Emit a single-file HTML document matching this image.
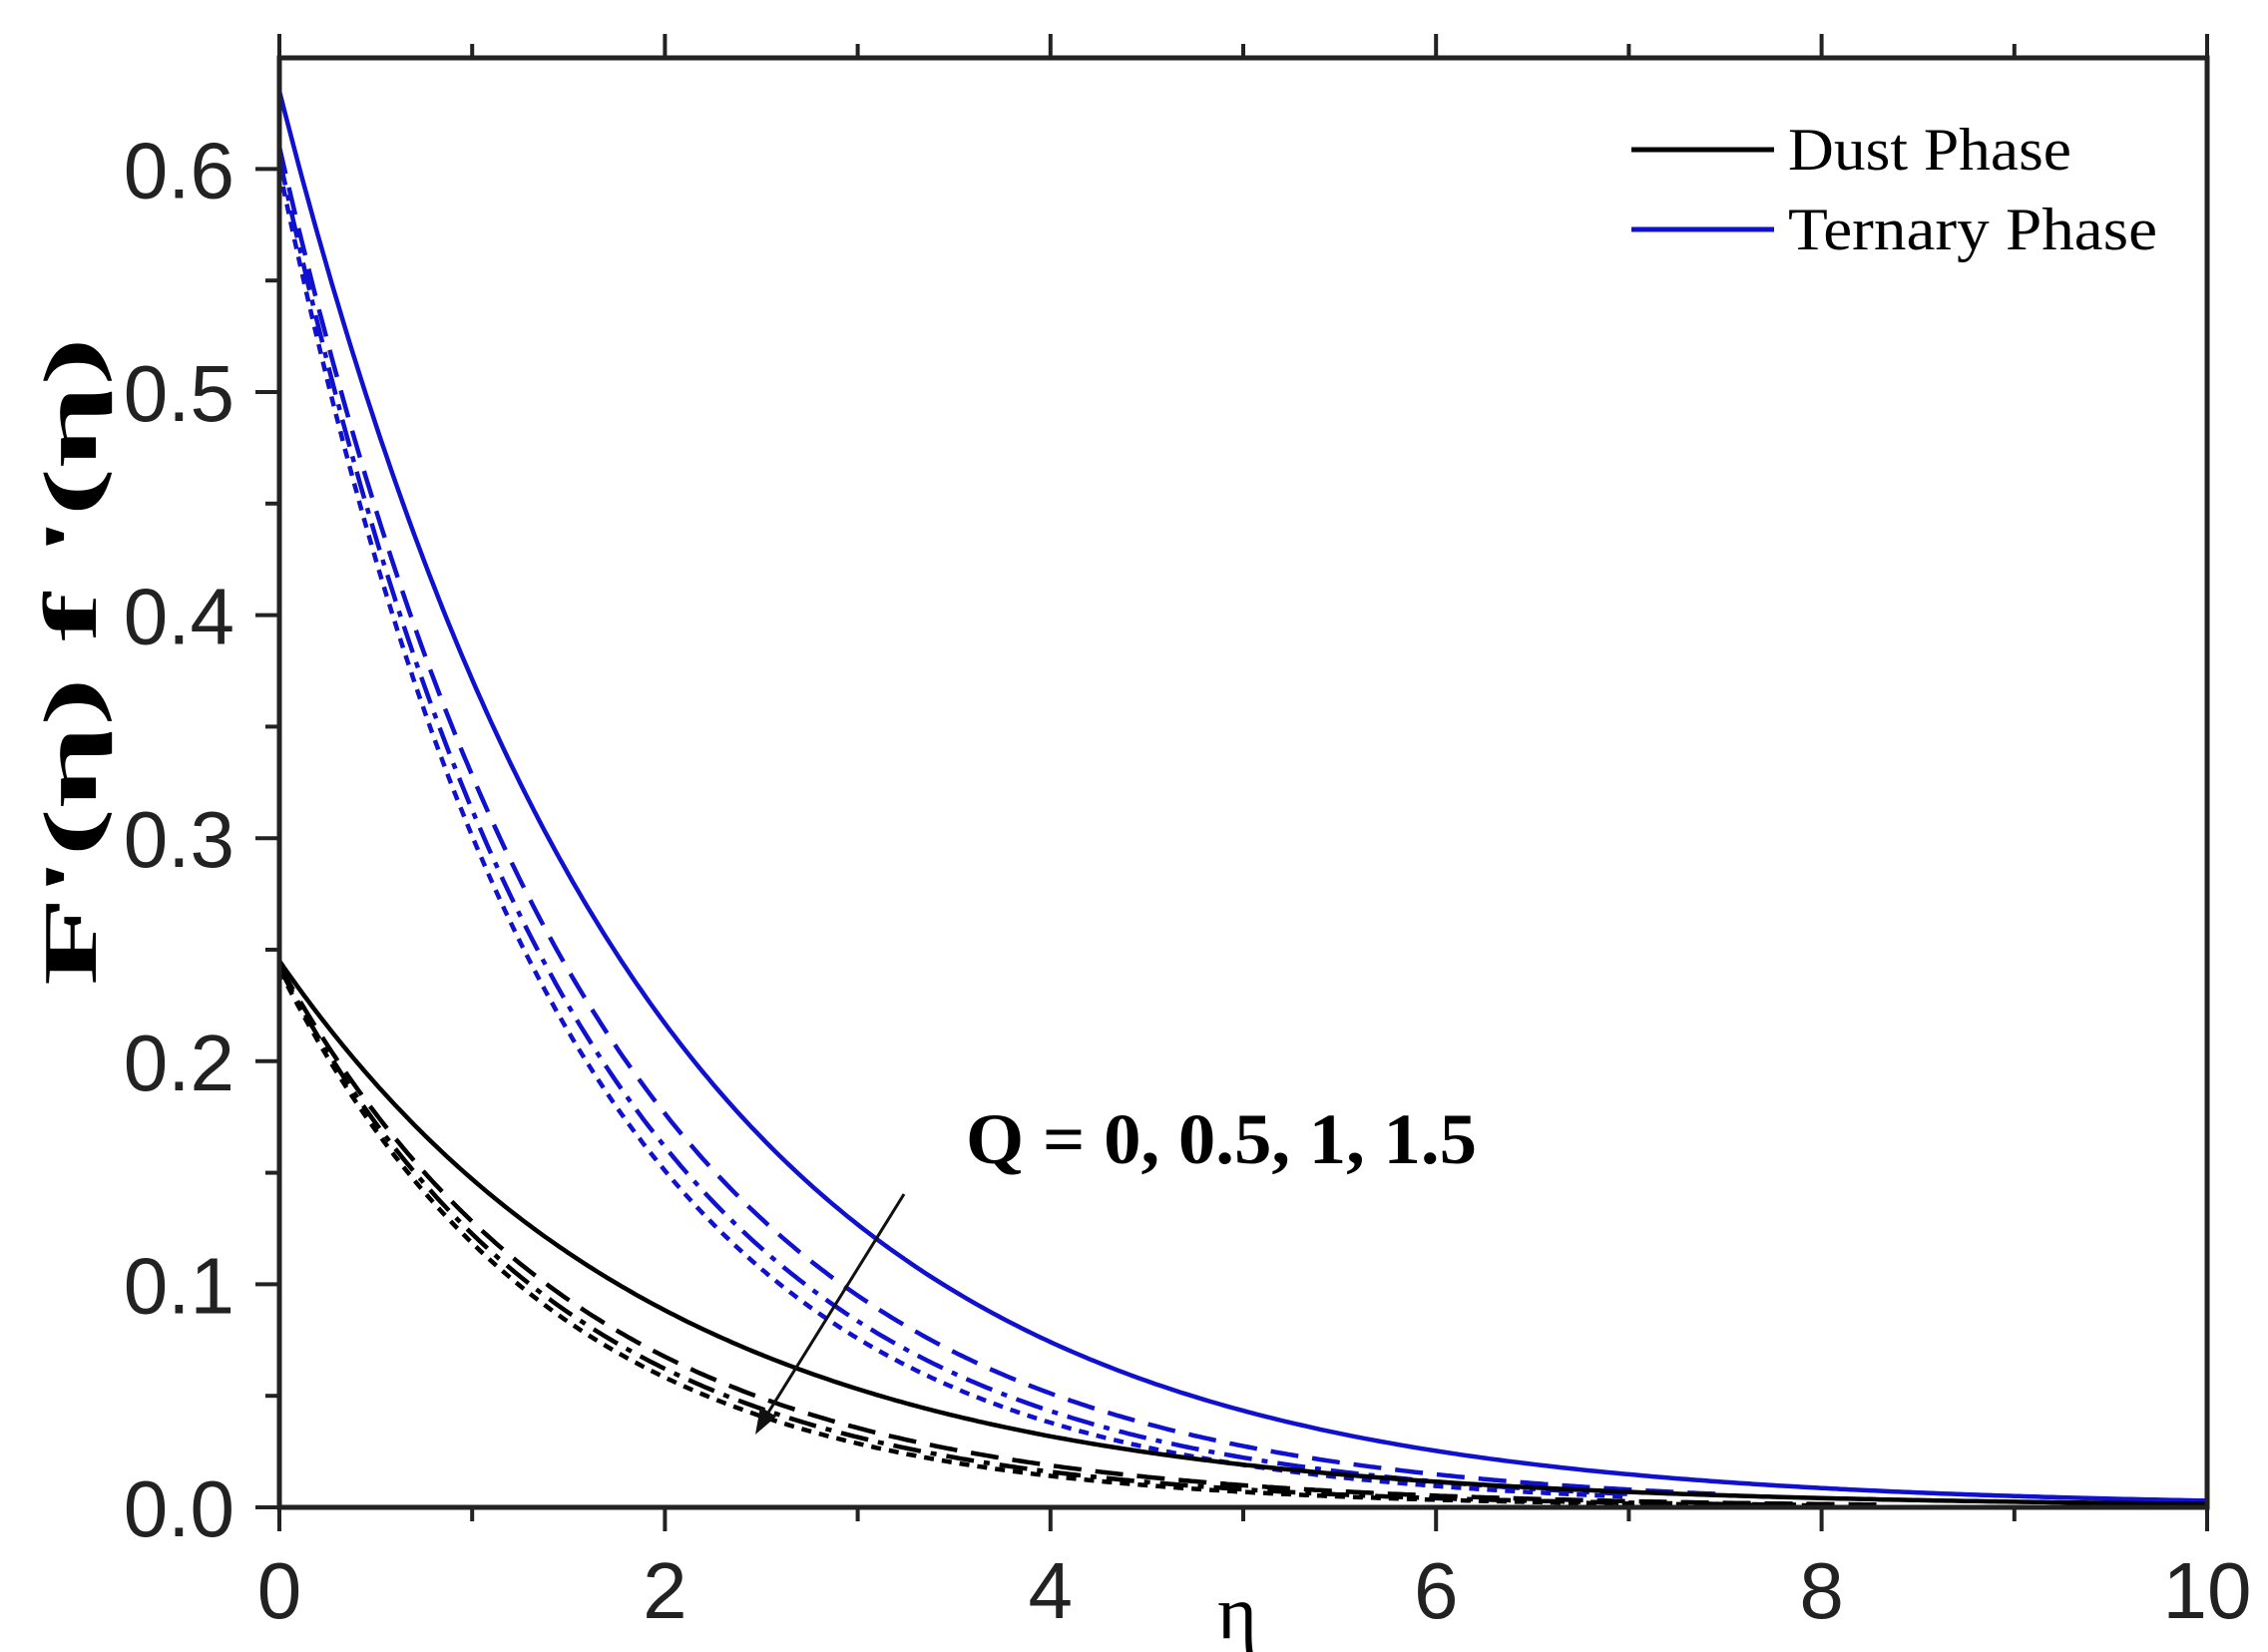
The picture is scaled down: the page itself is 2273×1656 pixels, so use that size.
<!DOCTYPE html>
<html><head><meta charset="utf-8"><style>
html,body{margin:0;padding:0;background:#fff;}
svg{display:block;}
</style></head><body>
<svg id="s" width="2273" height="1656" viewBox="0 0 2273 1656" xmlns="http://www.w3.org/2000/svg" font-family="Liberation Sans, sans-serif">
<rect width="2273" height="1656" fill="#fff"/>
<g id="curves"></g>
<g stroke="#222" stroke-width="5" fill="none">
<rect x="280" y="58" width="1932" height="1453"/>
</g>
<g id="ticks" stroke="#222" stroke-width="4"></g>
<g font-size="80" fill="#222" text-anchor="end" id="ylab"></g>
<g font-size="80" fill="#222" text-anchor="middle" id="xlab"></g>
<text x="1240" y="1642" font-size="76" font-family="Liberation Serif, serif" text-anchor="middle">η</text>
<text transform="translate(96,663) rotate(-90)" font-size="76" font-weight="bold" font-family="Liberation Serif, serif" text-anchor="middle" textLength="650" lengthAdjust="spacingAndGlyphs">F'(η) f '(η)</text>
<text x="968" y="1166" font-size="72" font-weight="bold" font-family="Liberation Serif, serif" textLength="512" lengthAdjust="spacingAndGlyphs">Q = 0, 0.5, 1, 1.5</text>
<line x1="906" y1="1197" x2="760" y2="1432" stroke="#111" stroke-width="3"/>
<polygon points="757,1438 762,1410 778,1420" fill="#111"/>
<line x1="1635" y1="150" x2="1778" y2="150" stroke="#000" stroke-width="5"/>
<line x1="1635" y1="230" x2="1778" y2="230" stroke="#1010d0" stroke-width="5"/>
<text x="1792" y="170" font-size="60" font-family="Liberation Serif, serif" textLength="284" lengthAdjust="spacingAndGlyphs">Dust Phase</text>
<text x="1792" y="250" font-size="60" font-family="Liberation Serif, serif" textLength="370" lengthAdjust="spacingAndGlyphs">Ternary Phase</text>
</svg>
<script>
var X0=280,XS=193.2,Y0=1511,YS=2236;
var g=document.getElementById('curves');
function curve(a,b,end,col,dash,w){
 var d='';for(var i=0;i<=400;i++){var x=end*i/400;var y=a*Math.exp(-b*x);
 d+=(i?'L':'M')+(X0+x*XS).toFixed(1)+','+(Y0-y*YS).toFixed(1);}
 var p=document.createElementNS('http://www.w3.org/2000/svg','path');
 p.setAttribute('d',d);p.setAttribute('fill','none');p.setAttribute('stroke',col);
 p.setAttribute('stroke-width',w||4.5);if(dash)p.setAttribute('stroke-dasharray',dash);g.appendChild(p);}
curve(0.635,0.537,10,'#1010d0');
curve(0.61,0.62,7.5,'#1010d0','28,14');
curve(0.605,0.66,7,'#1010d0','28,10,6,10');
curve(0.60,0.69,7,'#1010d0','10,8');
curve(0.245,0.51,10,'#000');
curve(0.243,0.64,8.3,'#000','28,14');
curve(0.242,0.68,8,'#000','28,10,6,10');
curve(0.241,0.71,8,'#000','10,8');
var t=document.getElementById('ticks'),yl=document.getElementById('ylab'),xl=document.getElementById('xlab');
function el(tag,at,par,txt){var e=document.createElementNS('http://www.w3.org/2000/svg',tag);for(var k in at)e.setAttribute(k,at[k]);if(txt)e.textContent=txt;par.appendChild(e);}
for(var i=0;i<=12;i++){var y=Y0-i*0.05*YS;if(y<58)break;var len=(i%2==0)?24:14;
 el('line',{x1:280-len,y1:y,x2:280,y2:y},t);
 if(i%2==0)el('text',{x:235,y:y+29},yl,(i*0.05).toFixed(1));}
for(var j=0;j<=10;j++){var x=X0+j*XS;var len=(j%2==0)?24:14;
 el('line',{x1:x,y1:1511,x2:x,y2:1511+len},t);
 el('line',{x1:x,y1:58,x2:x,y2:58-len},t);
 if(j%2==0)el('text',{x:x,y:1622},xl,String(j));}
</script>
</body></html>
